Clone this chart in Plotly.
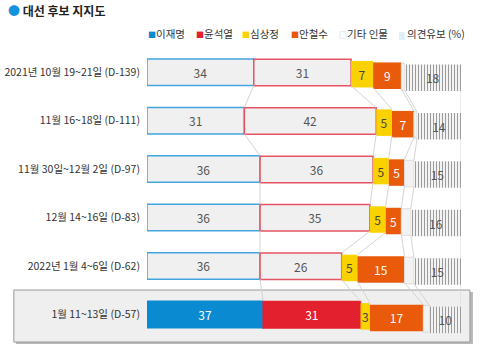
import plotly.graph_objects as go

# Poll dates (row labels, top to bottom)
labels = [
    "2021년 10월 19~21일 (D-139)",
    "11월 16~18일 (D-111)",
    "11월 30일~12월 2일 (D-97)",
    "12월 14~16일 (D-83)",
    "2022년 1월 4~6일 (D-62)",
    "1월 11~13일 (D-57)",
]

# Support (%) per candidate
lee = [34, 31, 36, 36, 36, 37]
yoon = [31, 42, 36, 35, 26, 31]
sim = [7, 5, 5, 5, 5, 3]
ahn = [9, 7, 5, 5, 15, 17]
others = [1, 1, 3, 3, 3, 2]
undecided = [18, 14, 15, 16, 15, 10]

series_names = ["이재명", "윤석열", "심상정", "안철수", "기타 인물", "의견유보"]
series_vals = [lee, yoon, sim, ahn, others, undecided]

FONT = "Noto Sans CJK KR"
rows = list(range(len(labels)))
n = len(rows)
last = n - 1

# geometry (pixels -> row units)
ROW_PX = 48.4
PX = 1.0 / ROW_PX
BAR_W = 26.5 * PX
STEP_PX = [0, 0.3, 2, 3.5, 4.5, 5.5]   # slight downward step per segment

BLUE, RED, YELLOW, ORANGE = "#0a8ad0", "#e3202e", "#fad200", "#e95a0a"
GREY_FILL = "#f0f0f0"

def per_row(normal, final):
    return [normal] * last + [final]

styles = [
    dict(fill=per_row(GREY_FILL, BLUE), line=per_row("#43a4de", BLUE), lw=1.5,
         tc=per_row("#555555", "white")),
    dict(fill=per_row(GREY_FILL, RED), line=per_row("#e65464", RED), lw=1.5,
         tc=per_row("#555555", "white")),
    dict(fill=[YELLOW] * n, line=[YELLOW] * n, lw=0, tc=["#444444"] * n),
    dict(fill=[ORANGE] * n, line=[ORANGE] * n, lw=0, tc=["white"] * n),
    dict(fill=["#f2f2f2"] * n, line=["#dcdcdc"] * n, lw=1, tc=["#555555"] * n),
    dict(fill=["#f3f3f3"] * n, line=["#f3f3f3"] * n, lw=0, tc=["#555555"] * n),
]

fig = go.Figure()

# segment bases from cumulative sums
bases = []
running = [0] * n
for vals in series_vals:
    bases.append(running[:])
    running = [r + v for r, v in zip(running, vals)]

# connector lines between consecutive rows at each segment's right edge
cx, cy = [], []
for k, vals in enumerate(series_vals):
    top = -BAR_W / 2 + STEP_PX[k] * PX
    for i in range(n - 1):
        x_a = bases[k][i] + vals[i]
        x_b = bases[k][i + 1] + vals[i + 1]
        cx += [x_a, x_b, None]
        cy += [rows[i] + top + BAR_W, rows[i + 1] + top, None]
fig.add_trace(go.Scatter(x=cx, y=cy, mode="lines",
                         line=dict(color="#d4d4d4", width=1),
                         hoverinfo="skip", showlegend=False))

for k, (name, vals) in enumerate(zip(series_names, series_vals)):
    st = styles[k]
    marker = dict(color=st["fill"], line=dict(color=st["line"], width=st["lw"]))
    if k == 5:
        marker["pattern"] = dict(shape="|", fgcolor="#d0d0d0", bgcolor="#f3f3f3",
                                 size=3, solidity=0.34)
    text = [] if k == 4 else [str(v) for v in vals]
    fig.add_trace(go.Bar(
        y=rows, x=vals, base=bases[k], orientation="h", name=name,
        width=BAR_W, offset=-BAR_W / 2 + STEP_PX[k] * PX,
        marker=marker,
        text=text, textposition="inside", insidetextanchor="middle", textangle=0,
        textfont=dict(family=FONT, size=12, color=st["tc"]),
        hoverinfo="skip", showlegend=False,
    ))

W, H = 480, 346
L, R, T, B = 145, 19, 48, 4
pw, ph = W - L - R, H - T - B

def px_x(p):
    return (p - L) / pw

def px_y(p):
    return (H - B - p) / ph

# highlight box around latest poll
shapes = [
    dict(type="rect", xref="paper", yref="paper", layer="below",
         x0=px_x(13), x1=px_x(473), y0=px_y(344), y1=px_y(292),
         fillcolor="#b8b8b8", line=dict(width=0)),
    dict(type="rect", xref="paper", yref="paper", layer="below",
         x0=px_x(11), x1=px_x(470), y0=px_y(342), y1=px_y(290),
         fillcolor="#efefef", line=dict(color="#9a9a9a", width=1)),
]

annotations = [
    dict(xref="paper", yref="paper", x=px_x(3), y=px_y(11), xanchor="left",
         yanchor="middle", showarrow=False,
         text='<span style="color:#1592dc">●</span> <b>대선 후보 지지도</b>',
         font=dict(family=FONT, size=12, color="#222222")),
]

legend_items = [
    (144, '<span style="color:%s;font-size:8px">■</span>이재명' % BLUE),
    (192, '<span style="color:%s;font-size:8px">■</span>윤석열' % RED),
    (239, '<span style="color:%s;font-size:8px">■</span>심상정' % YELLOW),
    (288, '<span style="color:%s;font-size:8px">■</span>안철수' % ORANGE),
    (336, '<span style="color:#b5b5b5;font-size:8px">□</span>기타 인물'),
    (397, '<span style="color:#aaaaaa;font-size:7px">|||</span> 의견유보 (%)'),
]
for xp, txt in legend_items:
    annotations.append(dict(xref="paper", yref="paper", x=px_x(xp), y=px_y(34),
                            xanchor="left", yanchor="middle", showarrow=False,
                            text=txt, font=dict(family=FONT, size=10.5, color="#333333")))

fig.update_layout(
    width=W, height=H,
    margin=dict(l=L, r=R, t=T, b=B),
    paper_bgcolor="white", plot_bgcolor="rgba(0,0,0,0)",
    barmode="overlay",
    uniformtext=dict(minsize=12, mode="show"),
    xaxis=dict(range=[0, 100], visible=False, fixedrange=True),
    yaxis=dict(range=[n - 1 + 0.57, -0.5], tickvals=rows, ticktext=labels,
               showgrid=False, zeroline=False, showline=False, ticks="",
               ticklabelstandoff=6,
               tickfont=dict(family=FONT, size=10.5, color="#333333")),
    shapes=shapes, annotations=annotations,
    showlegend=False,
)

fig.write_html("out.html")
